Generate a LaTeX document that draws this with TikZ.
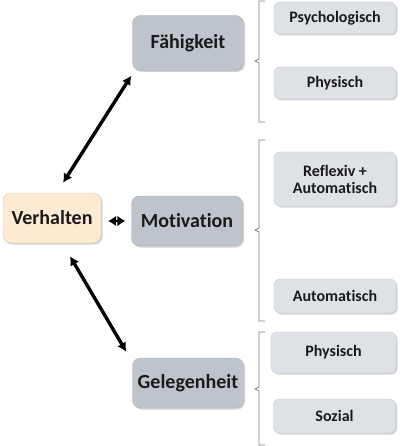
\documentclass[tikz,border=0pt]{standalone}
\usepackage{fontspec}
\setmainfont{Carlito}[Ligatures=NoCommon]
\usetikzlibrary{arrows.meta,shadows,calc}

\definecolor{mainbox}{HTML}{BEC4CB}
\definecolor{subbox}{HTML}{DEE1E5}
\definecolor{behbox}{HTML}{FDEAD2}
\definecolor{bracegray}{HTML}{7F7F7F}
\definecolor{textdark}{HTML}{1A1A1A}

\tikzset{
  mainnode/.style={draw=mainbox!90!black,fill=mainbox,rounded corners=8pt,text=textdark,
    minimum width=111pt,minimum height=52pt,font=\fontsize{20}{22}\selectfont\bfseries,
    drop shadow={shadow xshift=1.5pt,shadow yshift=-1.5pt,opacity=0.35}},
  subnode/.style={draw=subbox!90!black,fill=subbox,rounded corners=6pt,text=textdark,
    minimum width=122pt,font=\fontsize{16}{17}\selectfont\bfseries,align=center,
    drop shadow={shadow xshift=1.5pt,shadow yshift=-1.5pt,opacity=0.35}},
  bigarrow/.style={line width=3.4pt,{Latex[length=9pt,width=10pt]}-{Latex[length=9pt,width=10pt]}},
  bracket/.style={draw=bracegray,line width=0.7pt}
}

\begin{document}
\begin{tikzpicture}[x=1pt,y=-1pt]
  \useasboundingbox (0,0) rectangle (400,446);
  % main nodes
  \node[mainnode,fill=behbox,draw=behbox!85!black,minimum width=98pt,minimum height=50pt] (verhalten) at (52,218) {Verhalten};
  \node[mainnode,minimum height=55pt] (faehig) at (188,43) {Fähigkeit};
  \node[mainnode,minimum height=50pt] (motiv) at (187,221) {Motivation};
  \node[mainnode,minimum height=50pt] (geleg) at (188,383) {Gelegenheit};
  % sub nodes
  \node[subnode,minimum height=32pt] (psycho) at (335,18) {Psychologisch};
  \node[subnode,minimum height=32pt] (phys1) at (335,83) {Physisch};
  \node[subnode,minimum height=54pt] (reflex) at (335,179) {Reflexiv +\\Automatisch};
  \node[subnode,minimum height=34pt] (auto) at (335,296) {Automatisch};
  \node[subnode,minimum height=41pt,minimum width=125pt] (phys2) at (333.5,352.5) {Physisch};
  \node[subnode,minimum height=34pt] (sozial) at (334.5,416) {Sozial};
  % brackets
  \draw[bracket] (265,1) -- (259,1) -- (259,59) -- (255,61) -- (259,63) -- (259,122) -- (265,122);
  \draw[bracket] (265,140) -- (259,140) -- (259,228) -- (255,230) -- (259,232) -- (259,321) -- (265,321);
  \draw[bracket] (265,332) -- (259,332) -- (259,387) -- (255,389) -- (259,391) -- (259,445) -- (265,445);
  % arrows
  \draw[bigarrow] ($(verhalten.north)+(11,-10)$) -- ($(faehig.south west)+(-1,5)$);
  \draw[bigarrow] ($(verhalten.south)+(18,13)$) -- ($(geleg.north west)+(-6,-6)$);
  \draw[line width=2pt,{Latex[length=8pt,width=11pt]}-{Latex[length=8pt,width=11pt]}] ($(verhalten.east)+(7,3)$) -- ($(motiv.west)+(-6,0)$);
\end{tikzpicture}
\end{document}
